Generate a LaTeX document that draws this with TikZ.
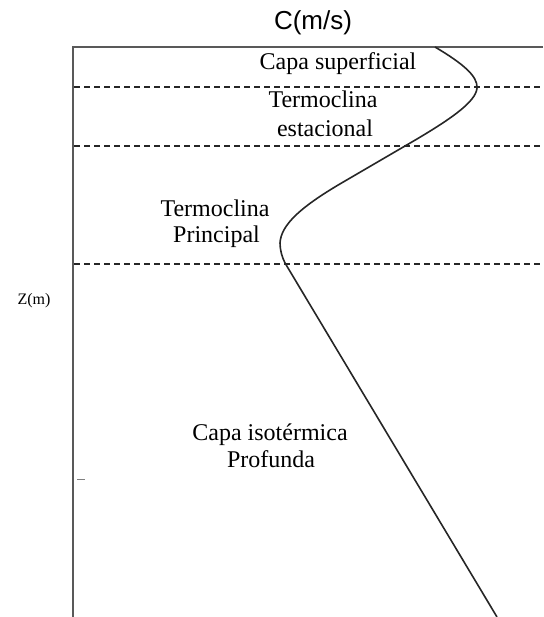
\documentclass[tikz,border=0pt]{standalone}
\usepackage{fontspec}
\setmainfont{Liberation Serif}
\newfontfamily\titlefont{Liberation Sans}
\begin{document}
\begin{tikzpicture}[x=1pt,y=-1pt,
  lbl/.style={inner sep=0pt,anchor=base,font=\fontsize{24}{28}\selectfont},
  axisline/.style={draw=black!65,line width=2.6pt},
  layer/.style={draw=black!85,line width=1.4pt,dash pattern=on 6pt off 4pt},
  profile/.style={draw=black!85,line width=1.6pt,line join=round}]
\useasboundingbox (0,0) rectangle (543,617);
% axes
\coordinate (o) at (73,47);
\coordinate (tr) at (543,47);
\coordinate (bl) at (73,617);
\draw[axisline] (tr) -- (o) -- (bl);
% dashed layer boundaries
\coordinate (d1l) at (74,87);  \coordinate (d1r) at (543,87);
\coordinate (d2l) at (74,146); \coordinate (d2r) at (543,146);
\coordinate (d3l) at (74,264); \coordinate (d3r) at (543,264);
\draw[layer] (d1l) -- (d1r);
\draw[layer] (d2l) -- (d2r);
\draw[layer] (d3l) -- (d3r);
% small tick
\coordinate (t1) at (77,479); \coordinate (t2) at (85,479);
\draw[black!50,line width=1pt] (t1) -- (t2);
% sound speed profile
\coordinate (c0) at (435,47);
\coordinate (c1) at (477,88);
\coordinate (c2) at (405,146);
\coordinate (c3) at (345,181);
\coordinate (c4) at (280,243);
\coordinate (c5) at (285,263);
\coordinate (c6) at (497,617);
\draw[profile] (c0) .. controls (462,63) and (478,76) .. (c1)
  .. controls (476,102) and (450,120) .. (c2)
  -- (c3)
  .. controls (300,207) and (281,225) .. (c4)
  .. controls (280,250) and (282,257) .. (c5)
  -- (c6);
% labels
\node[inner sep=0pt,anchor=base,font=\titlefont\fontsize{26}{30}\selectfont] (title) at (313,30) {C(m/s)};
\node[lbl] (sup) at (338,70) {Capa superficial};
\node[lbl] (te1) at (323,108) {Termoclina};
\node[lbl] (te2) at (325,137) {estacional};
\node[lbl] (tp1) at (215,217) {Termoclina};
\node[lbl] (tp2) at (216.5,243) {Principal};
\node[lbl] (ci1) at (270,440) {Capa isotérmica};
\node[lbl] (ci2) at (271,467) {Profunda};
\node[inner sep=0pt,anchor=base,font=\fontsize{16}{18}\selectfont] (z) at (34,304) {Z(m)};
\end{tikzpicture}
\end{document}
